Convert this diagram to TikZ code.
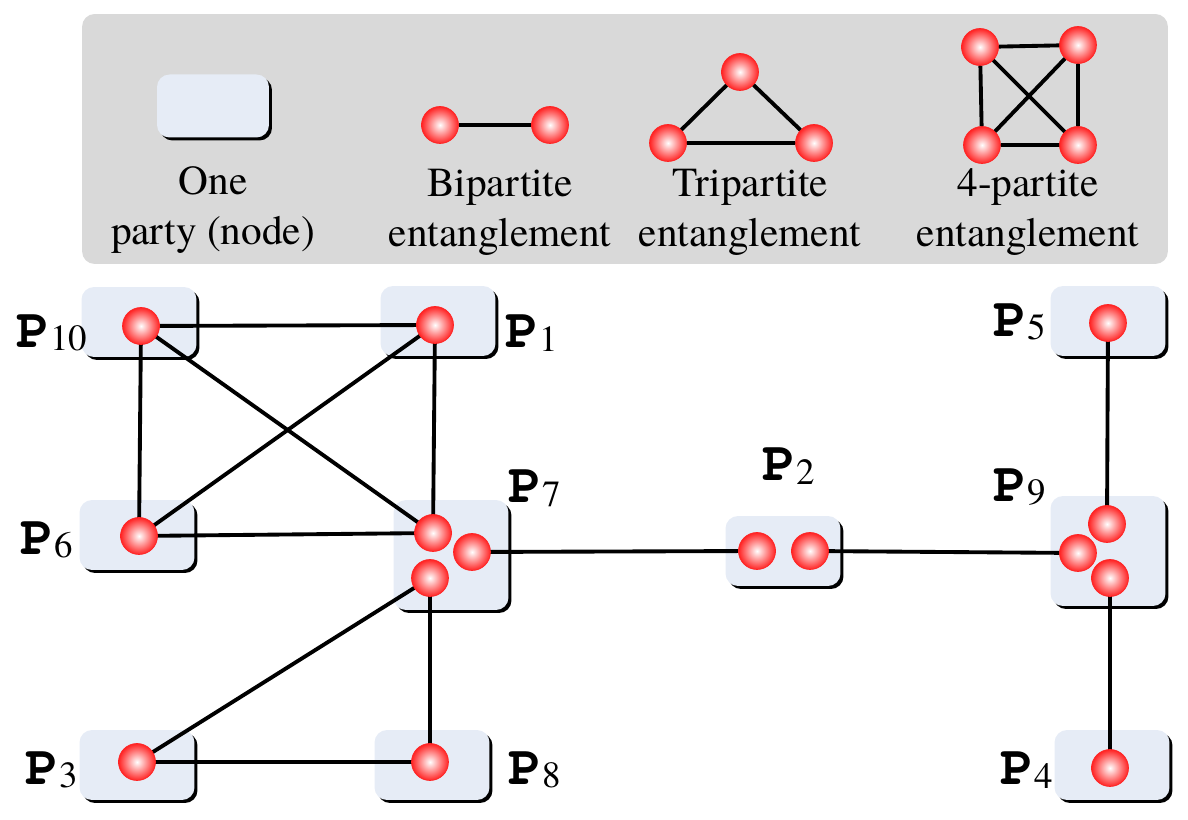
\documentclass[tikz,border=0pt]{standalone}
\usepackage{fontspec}
\IfFontExistsTF{texgyretermes-regular.otf}
  {\setmainfont{texgyretermes-regular.otf}[BoldFont=texgyretermes-bold.otf]}
  {\setmainfont{Liberation Serif}}
\IfFontExistsTF{texgyrecursor-bold.otf}
  {\newfontfamily\labelfont{texgyrecursor-bold.otf}}
  {\newfontfamily\labelfont{Liberation Mono}[UprightFont=* Bold]}
\usetikzlibrary{shapes,shadows,positioning}
\definecolor{legendgray}{RGB}{217,217,217}
\definecolor{partyfill}{RGB}{230,236,246}
\definecolor{qred}{RGB}{255,35,35}
\tikzstyle{party} = [rectangle, fill=partyfill, rounded corners=0.25cm, minimum width=2.3cm, minimum height=1.4cm, drop shadow={shadow xshift=0.06cm, shadow yshift=-0.06cm, opacity=1, fill=black}]
\tikzstyle{bigparty} = [party, minimum height=2.2cm]
\tikzstyle{qubit} = [circle, draw=qred, thin, inner color=white, outer color=qred, minimum size=0.74cm, inner sep=0pt]
\tikzstyle{link} = [draw, line width=2.2pt]
\tikzstyle{caption} = [align=center, font=\fontsize{23.5}{28.45}\selectfont]
\tikzstyle{plabel} = [inner sep=0pt]
\newcommand{\pname}[1]{{\fontsize{32}{32}\selectfont\labelfont P}\raisebox{-0.45ex}{\fontsize{21}{21}\selectfont #1}}

\begin{document}
\begin{tikzpicture}[x=0.02cm, y=-0.02cm]
        \useasboundingbox (0,0) rectangle (1188,820);
        % legend
        \node[rectangle, fill=legendgray, rounded corners=0.25cm, minimum width=21.72cm, minimum height=5cm] (legend) at (625,139) {};
        \node[party, minimum height=1.26cm, minimum width=2.24cm] (oneparty) at (213,106) {};
        \node[caption] (onetext) at (213,210) {One\\party (node)};
        \node[qubit] (bi1) at (440,125) {};
        \node[qubit] (bi2) at (550,125) {};
        \node[caption] (bitext) at (500,212) {Bipartite\\entanglement};
        \node[qubit] (tri1) at (740,72) {};
        \node[qubit] (tri2) at (668,143) {};
        \node[qubit] (tri3) at (814,143) {};
        \node[caption] (tritext) at (750,212) {Tripartite\\entanglement};
        \node[qubit] (quad1) at (980,47) {};
        \node[qubit] (quad2) at (1078,45) {};
        \node[qubit] (quad3) at (982,145) {};
        \node[qubit] (quad4) at (1078,145) {};
        \node[caption] (quadtext) at (1028,212) {4-partite\\entanglement};
        % parties
        \node[party] (box10) at (139,322) {};
        \node[party] (box1) at (438,321) {};
        \node[party] (box6) at (137,535) {};
        \node[bigparty] (box7) at (451,555) {};
        \node[party] (box2) at (783,551) {};
        \node[bigparty] (box9) at (1108,551) {};
        \node[party] (box5) at (1108,321) {};
        \node[party] (box4) at (1112,765) {};
        \node[party] (box3) at (137,765) {};
        \node[party] (box8) at (432,765) {};
        % labels
        \node[plabel] (name10) at (52,333) {\pname{10}};
        \node[plabel] (name1) at (532,333) {\pname{1}};
        \node[plabel] (name6) at (47,540) {\pname{6}};
        \node[plabel] (name7) at (535,488) {\pname{7}};
        \node[plabel] (name2) at (789,466) {\pname{2}};
        \node[plabel] (name9) at (1020,487) {\pname{9}};
        \node[plabel] (name5) at (1020,322) {\pname{5}};
        \node[plabel] (name4) at (1027,770) {\pname{4}};
        \node[plabel] (name3) at (52,770) {\pname{3}};
        \node[plabel] (name8) at (535,770) {\pname{8}};
        % links
        \path[link] (bi1) -- (bi2);
        \path[link] (tri1) -- (tri2) -- (tri3) -- (tri1);
        \path[link] (quad1) -- (quad2) -- (quad4) -- (quad3) -- (quad1) -- (quad4);
        \path[link] (quad2) -- (quad3);
        \coordinate (q10) at (141,326);
        \coordinate (q1) at (435,325);
        \coordinate (q6) at (139,536);
        \coordinate (q7a) at (433,533);
        \coordinate (q7b) at (472,552);
        \coordinate (q7c) at (430,578);
        \coordinate (q2a) at (757,551);
        \coordinate (q2b) at (810,551);
        \coordinate (q9a) at (1107,524);
        \coordinate (q9b) at (1078,553);
        \coordinate (q9c) at (1110,578);
        \coordinate (q5) at (1108,323);
        \coordinate (q4) at (1110,768);
        \coordinate (q3) at (137,762);
        \coordinate (q8) at (430,762);
        \path[link] (q10) -- (q1) -- (q7a) -- (q6) -- (q10) -- (q7a);
        \path[link] (q1) -- (q6);
        \path[link] (q7b) -- (q2a);
        \path[link] (q2b) -- (q9b);
        \path[link] (q5) -- (q9a);
        \path[link] (q9c) -- (q4);
        \path[link] (q8) -- (q7c) -- (q3) -- (q8);
        % qubits
        \foreach \q in {q10,q1,q6,q7a,q7b,q7c,q2a,q2b,q9a,q9b,q9c,q5,q4,q3,q8}
            \node[qubit] (ball-\q) at (\q) {};
    \end{tikzpicture}
\end{document}
